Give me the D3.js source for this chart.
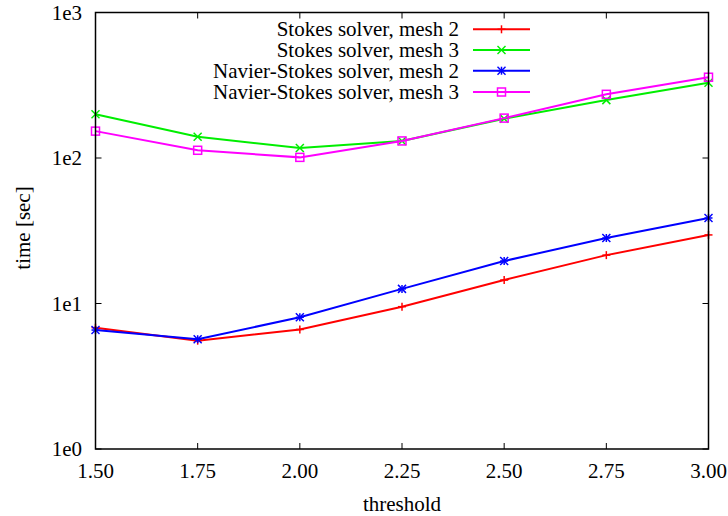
<!DOCTYPE html>
<html><head><meta charset="utf-8">
<script src="https://cdn.jsdelivr.net/npm/d3@7"></script>
<style>body{margin:0;background:#fff}svg{display:block}</style>
</head><body>
<svg id="c" width="728" height="516"></svg>
<script>
const thresholds = [1.50, 1.75, 2.00, 2.25, 2.50, 2.75, 3.00];
const stokesMesh2 = [6.82, 5.55, 6.63, 9.51, 14.5, 21.5, 29.6];
const stokesMesh3 = [200, 140, 117, 131, 186, 250, 329];
const nsMesh2 = [6.57, 5.68, 8.04, 12.6, 19.6, 28.2, 38.7];
const nsMesh3 = [153, 113, 101, 131, 188, 274, 359];
const seriesNames = ["Stokes solver, mesh 2", "Stokes solver, mesh 3", "Navier-Stokes solver, mesh 2", "Navier-Stokes solver, mesh 3"];
const xTickLabels = ["1.50", "1.75", "2.00", "2.25", "2.50", "2.75", "3.00"];
const yTicks = [1, 10, 100, 1000];
const yTickLabels = ["1e0", "1e1", "1e2", "1e3"];

const colors = ["#ff0000", "#00ee00", "#0000ff", "#ff00ff"];
const markers = ["plus", "cross", "star", "square"];
const seriesData = [stokesMesh2, stokesMesh3, nsMesh2, nsMesh3];

const L = 95.5, R = 708.5, T = 12.5, B = 449;

const svg = d3.select("#c");
const x = d3.scaleLinear().domain([1.5, 3.0]).range([L, R]);
const y = d3.scaleLog().domain([1, 1000]).range([B, T]);

function txt(sel) {
  return sel.append("text").style("font-family", '"Liberation Serif"').style("font-size", "21px");
}

const tk = 6;
const g = svg.append("g").attr("stroke", "#000").attr("stroke-width", 1);
thresholds.forEach(t => {
  g.append("line").attr("x1", x(t)).attr("x2", x(t)).attr("y1", B).attr("y2", B - tk);
  g.append("line").attr("x1", x(t)).attr("x2", x(t)).attr("y1", T).attr("y2", T + tk);
});
yTicks.forEach(v => {
  g.append("line").attr("x1", L).attr("x2", L + tk).attr("y1", y(v)).attr("y2", y(v));
  g.append("line").attr("x1", R).attr("x2", R - tk).attr("y1", y(v)).attr("y2", y(v));
});

thresholds.forEach((t, i) => {
  txt(svg).attr("x", x(t)).attr("y", 478).attr("text-anchor", "middle").text(xTickLabels[i]);
});
yTicks.forEach((v, i) => {
  txt(svg).attr("x", 82).attr("y", y(v) + 7).attr("text-anchor", "end").text(yTickLabels[i]);
});

txt(svg).attr("x", (L + R) / 2).attr("y", 511).attr("text-anchor", "middle").text("threshold");
txt(svg).attr("transform", "translate(30,228) rotate(-90)").attr("text-anchor", "middle").text("time [sec]");

function drawMarker(sel, type, cx, cy, color) {
  const s = 4;
  const mg = sel.append("g").attr("stroke", color).attr("stroke-width", 1.5).attr("fill", "none");
  if (type === "plus" || type === "star") {
    mg.append("line").attr("x1", cx - s).attr("x2", cx + s).attr("y1", cy).attr("y2", cy);
    mg.append("line").attr("x1", cx).attr("x2", cx).attr("y1", cy - s).attr("y2", cy + s);
  }
  if (type === "cross" || type === "star") {
    mg.append("line").attr("x1", cx - s).attr("x2", cx + s).attr("y1", cy - s).attr("y2", cy + s);
    mg.append("line").attr("x1", cx - s).attr("x2", cx + s).attr("y1", cy + s).attr("y2", cy - s);
  }
  if (type === "square") {
    mg.append("rect").attr("x", cx - s).attr("y", cy - s).attr("width", 2 * s).attr("height", 2 * s);
  }
}

const line = d3.line().x((d, i) => x(thresholds[i])).y(d => y(d));
const plot = svg.append("g");
seriesData.forEach((data, k) => {
  plot.append("path").datum(data).attr("d", line).attr("fill", "none")
    .attr("stroke", colors[k]).attr("stroke-width", 2);
  data.forEach((v, i) => drawMarker(plot, markers[k], x(thresholds[i]), y(v), colors[k]));
});

const legY = [29.3, 50, 70.7, 92];
seriesNames.forEach((name, k) => {
  txt(svg).attr("x", 459).attr("y", legY[k] + 7).attr("text-anchor", "end").text(name);
  svg.append("line").attr("x1", 473).attr("x2", 530).attr("y1", legY[k]).attr("y2", legY[k])
    .attr("stroke", colors[k]).attr("stroke-width", 2);
  drawMarker(svg, markers[k], 501.5, legY[k], colors[k]);
});

svg.append("rect").attr("x", L).attr("y", T).attr("width", R - L).attr("height", B - T)
  .attr("fill", "none").attr("stroke", "#000").attr("stroke-width", 1.5);
</script>
</body></html>
